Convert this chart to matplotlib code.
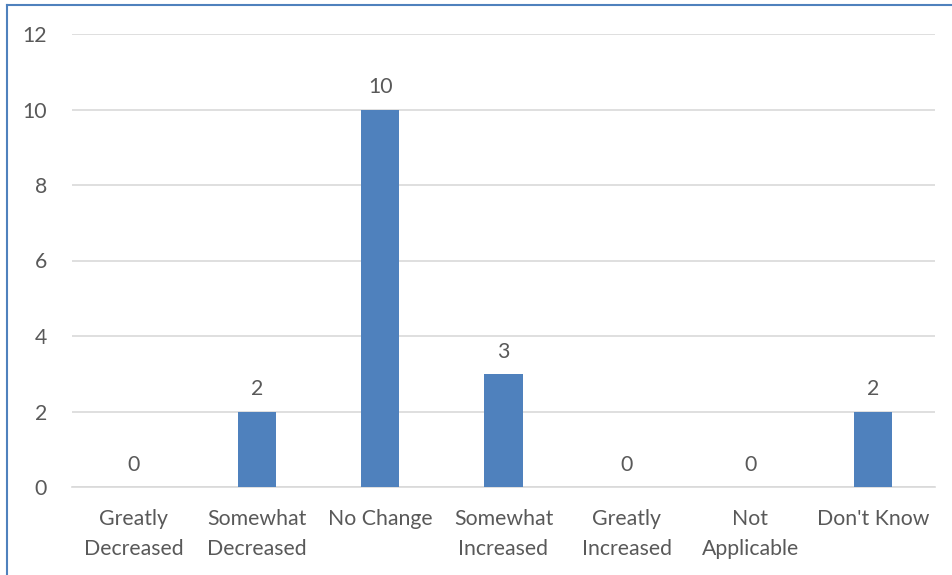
import matplotlib
matplotlib.use("Agg")
import matplotlib.pyplot as plt
from matplotlib.lines import Line2D

categories = ["Greatly\nDecreased", "Somewhat\nDecreased", "No Change", "Somewhat\nIncreased",
              "Greatly\nIncreased", "Not\nApplicable", "Don't Know"]
values = [0, 2, 10, 3, 0, 0, 2]
yticks = [0, 2, 4, 6, 8, 10, 12]

plt.rcParams['font.family'] = ['Lato', 'DejaVu Sans']
txt = '#595959'
fs = 15.3

fig = plt.figure(figsize=(9.52, 5.75), dpi=100)
ax = fig.add_axes([72/952, 1-487/575, (935-72)/952, (487-34)/575])
x = list(range(len(categories)))
ax.bar(x, values, width=0.31, color='#4f81bd', zorder=3)
for xi, v in zip(x, values):
    ax.text(xi, v + 0.32, str(v), ha='center', va='bottom', fontsize=fs, color=txt)
ax.set_xlim(-0.5, len(categories) - 0.5)
ax.set_ylim(0, 12)
ax.set_yticks(yticks)
ax.set_yticklabels([str(t) for t in yticks], fontsize=fs, color=txt)
ax.set_xticks(x)
ax.set_xticklabels(categories, fontsize=fs, color=txt, linespacing=1.6)
ax.tick_params(axis='both', length=0)
ax.tick_params(axis='y', pad=18)
ax.tick_params(axis='x', pad=16)
ax.grid(axis='y', color='#d9d9d9', linewidth=1.2, zorder=0)
for s in ['top', 'right', 'left']:
    ax.spines[s].set_visible(False)
ax.spines['bottom'].set_color('#d9d9d9')
ax.spines['bottom'].set_linewidth(1.2)

fig.add_artist(Line2D([6.5/952, 6.5/952], [0, 1-4.5/575], transform=fig.transFigure, color='#4f81bd', linewidth=1.5))
fig.add_artist(Line2D([6.5/952, 1], [1-4.5/575, 1-4.5/575], transform=fig.transFigure, color='#4f81bd', linewidth=1.5))

fig.savefig('out.png', dpi=100)
